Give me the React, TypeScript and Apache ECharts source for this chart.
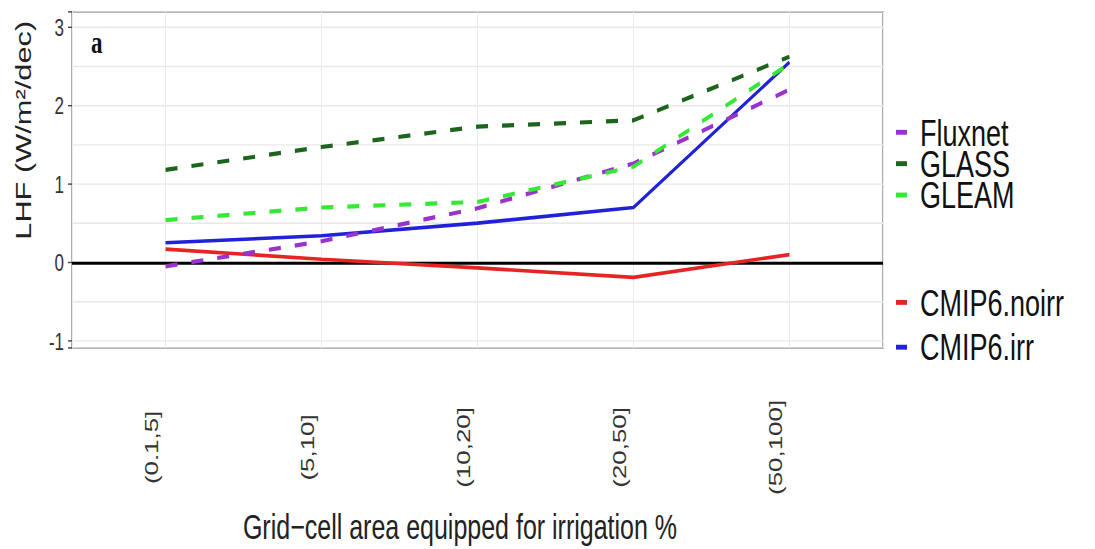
import React, { useEffect, useRef } from "react";
import * as echarts from "echarts";

// ---- data ----
const categories = ["(0.1,5]", "(5,10]", "(10,20]", "(20,50]", "(50,100]"];
const fluxnet = [-0.05, 0.27, 0.69, 1.26, 2.2];
const glass = [1.18, 1.47, 1.73, 1.81, 2.62];
const gleam = [0.54, 0.7, 0.77, 1.22, 2.53];
const cmipNoirr = [0.17, 0.04, -0.07, -0.19, 0.1];
const cmipIrr = [0.25, 0.34, 0.5, 0.7, 2.55];
const obsLegend = ["Fluxnet", "GLASS", "GLEAM"];
const modelLegend = ["CMIP6.noirr", "CMIP6.irr"];
const yMin = -1.09;
const yMax = 3.19;

// the reference image is stretched vertically; draw at a reduced height and stretch back
const S = 1.4;
const W = 1095;
const H = 549 / S;
const FONT = "'Liberation Sans', Arial, sans-serif";

const toPairs = (vals: number[]) => vals.map((v, i) => [i, v]);

export default function App() {
  const ref = useRef<HTMLDivElement>(null);

  useEffect(() => {
    if (!ref.current) return;
    const chart = echarts.init(ref.current, null, { renderer: "svg", width: W, height: H });

    const gridTop = 12 / S;
    const gridHeight = 336 / S;

    const isInt = (v: number) => Math.abs(v - Math.round(v)) < 1e-6;

    const dashed = (name: string, color: string, data: number[]) => ({
      name,
      type: "line",
      data: toPairs(data),
      symbol: "none",
      color,
      z: 3,
      lineStyle: { color, width: 3, type: [12, 14], cap: "butt" },
    });
    const solid = (name: string, color: string, data: number[]) => ({
      name,
      type: "line",
      data: toPairs(data),
      symbol: "none",
      color,
      z: 3,
      lineStyle: { color, width: 2.6, type: "solid" },
    });

    const noirr: any = solid("CMIP6.noirr", "#e52424", cmipNoirr);
    noirr.markLine = {
      silent: true,
      z: 1,
      symbol: "none",
      label: { show: false },
      lineStyle: { color: "#000", width: 2.2, type: "solid" },
      data: [{ yAxis: 0 }],
    };

    const legendBase = {
      orient: "vertical",
      left: 896,
      padding: 0,
      itemWidth: 11,
      itemHeight: 3.5,
      icon: "rect",
      selectedMode: false,
      itemStyle: { borderWidth: 0 },
      textStyle: { fontSize: 27, lineHeight: 20, color: "#111", fontFamily: FONT, padding: [0, 0, 0, 8] },
    };

    chart.setOption({
      animation: false,
      backgroundColor: "#ffffff",
      textStyle: { fontFamily: FONT },
      grid: {
        left: 72,
        right: W - 883,
        top: gridTop,
        height: gridHeight,
        show: true,
        borderColor: "#808080",
        borderWidth: 1.3,
        backgroundColor: "#ffffff",
        containLabel: false,
        outerBoundsMode: "none",
      },
      legend: [
        { ...legendBase, top: 81, itemGap: -4.6, data: obsLegend },
        { ...legendBase, top: 202.5, itemGap: 5, data: modelLegend },
      ],
      xAxis: {
        type: "value",
        min: -0.6,
        max: 4.6,
        minInterval: 1,
        maxInterval: 1,
        axisLine: { show: false },
        axisTick: { show: false },
        splitLine: { show: true, lineStyle: { color: "#ebebeb", width: 1 } },
        axisLabel: {
          rotate: 90,
          margin: 71,
          fontSize: 18.5,
          color: "#333",
          align: "center",
          verticalAlign: "bottom",
          lineHeight: 28,
          showMinLabel: false,
          showMaxLabel: false,
          formatter: (v: number) => (isInt(v) && v >= 0 && v < categories.length ? categories[Math.round(v)] : ""),
        },
        name: "Grid\u2212cell area equipped for irrigation %",
        nameLocation: "middle",
        nameGap: 115,
        nameTextStyle: { fontSize: 25, color: "#222", padding: [0, 35, 0, 0] },
      },
      yAxis: [
        {
          type: "value",
          min: yMin,
          max: yMax,
          minInterval: 0.5,
          maxInterval: 0.5,
          axisLine: { show: false },
          axisTick: { show: false },
          splitLine: { show: true, lineStyle: { color: "#e8e8e8", width: 1 } },
          axisLabel: {
            fontSize: 17,
            color: "#333",
            margin: 8,
            showMinLabel: false,
            showMaxLabel: false,
            formatter: (v: number) => (isInt(v) ? String(Math.round(v)) : ""),
          },
          name: "LHF (W/m\u00b2/dec)",
          nameLocation: "middle",
          nameGap: 37,
          nameTextStyle: { fontSize: 22, color: "#222", padding: [0, 0, 0, 71] },
        },
        {
          type: "value",
          position: "left",
          min: yMin,
          max: yMax,
          minInterval: 1,
          maxInterval: 1,
          axisLine: { show: false },
          axisLabel: { show: false },
          splitLine: { show: false },
          axisTick: { show: true, length: 4, lineStyle: { color: "#444", width: 1 } },
        },
      ],
      graphic: [
        {
          type: "text",
          x: 91,
          y: 30,
          style: {
            text: "a",
            font: "bold 23px 'Liberation Serif', 'Times New Roman', serif",
            fill: "#111",
            verticalAlign: "middle",
          },
        },
      ],
      series: [
        noirr,
        solid("CMIP6.irr", "#2121d9", cmipIrr),
        dashed("Fluxnet", "#9a32cd", fluxnet),
        dashed("GLASS", "#1d651d", glass),
        dashed("GLEAM", "#36e836", gleam),
      ],
    });

    return () => chart.dispose();
  }, []);

  return (
    <div
      style={{
        position: "fixed",
        left: 0,
        top: 0,
        width: W,
        height: 549,
        overflow: "hidden",
        background: "#fff",
      }}
    >
      <div
        ref={ref}
        style={{ width: W, height: H, transform: `scaleY(${S})`, transformOrigin: "0 0" }}
      />
    </div>
  );
}
